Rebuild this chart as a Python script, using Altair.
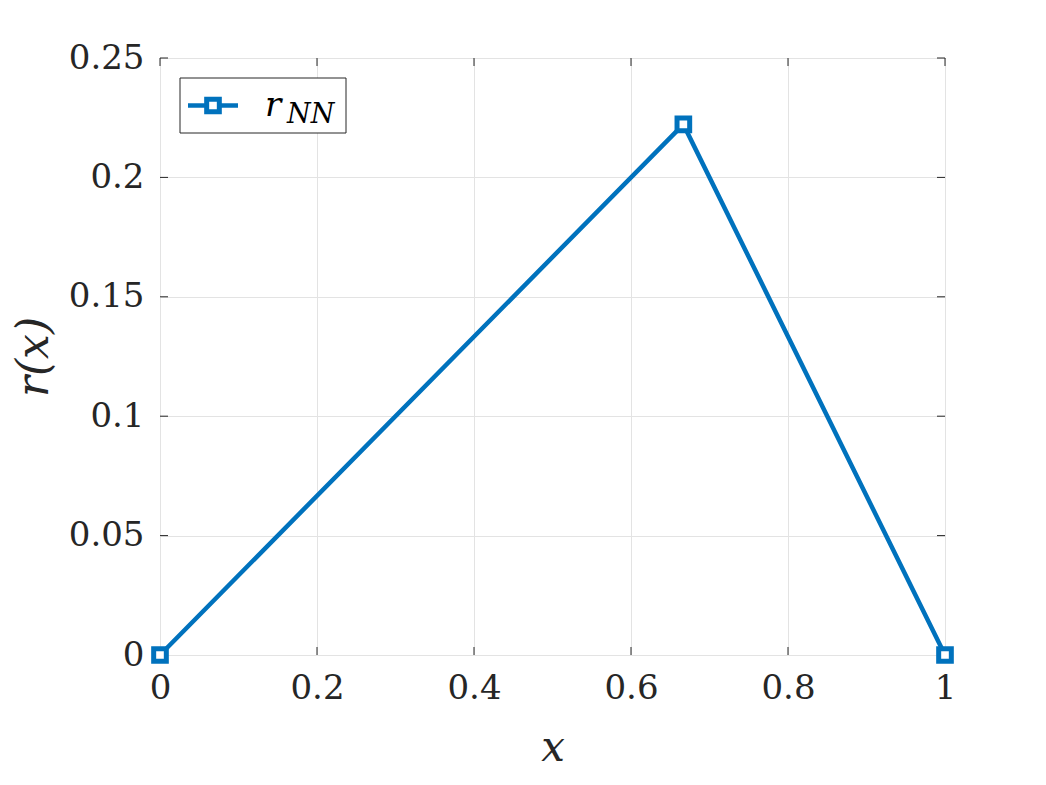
import altair as alt
import pandas as pd

# data
x_vals = [0.0, 0.6667, 1.0]
r_vals = [0.0, 0.2222, 0.0]
x_ticks = [0, 0.2, 0.4, 0.6, 0.8, 1.0]
y_ticks = [0, 0.05, 0.1, 0.15, 0.2, 0.25]

W, H = 785, 597
BLUE = "#0072BD"
INK = "#262626"
FONT = "DejaVu Serif"

df = pd.DataFrame({"x": x_vals, "r": r_vals})
dfx = pd.DataFrame({"t": x_ticks})
dfy = pd.DataFrame({"t": y_ticks})

xs = alt.Scale(domain=[0, 1], nice=False, zero=False)
ys = alt.Scale(domain=[0, 0.25], nice=False, zero=False)

xaxis = alt.Axis(values=x_ticks, format="~g", ticks=False, domain=False, labelFlush=False,
                 grid=True, gridColor="#e3e3e3", gridWidth=1,
                 labelFont=FONT, labelFontSize=34, labelColor=INK, labelPadding=16,
                 title="x", titleFont=FONT, titleFontSize=42, titleFontStyle="italic",
                 titleFontWeight="normal", titleColor=INK, titlePadding=22)
yaxis = alt.Axis(values=y_ticks, format="~g", ticks=False, domain=False, labelFlush=False,
                 grid=True, gridColor="#e3e3e3", gridWidth=1,
                 labelFont=FONT, labelFontSize=34, labelColor=INK, labelPadding=16,
                 title="r(x)", titleFont=FONT, titleFontSize=44, titleFontStyle="italic",
                 titleFontWeight="normal", titleColor=INK, titlePadding=12)

base = alt.Chart(df)

line = base.mark_line(color=BLUE, strokeWidth=4.5).encode(
    x=alt.X("x:Q", scale=xs, axis=xaxis),
    y=alt.Y("r:Q", scale=ys, axis=yaxis),
)
pts = base.mark_point(shape="square", size=160, filled=False, color=BLUE,
                      strokeWidth=5, opacity=1, fill="white", fillOpacity=1).encode(
    x=alt.X("x:Q", scale=xs), y=alt.Y("r:Q", scale=ys))

tick_style = dict(color=INK, strokeWidth=1)
xb = alt.Chart(dfx).mark_rule(**tick_style).encode(
    x=alt.X("t:Q", scale=xs), y=alt.value(H), y2=alt.value(H - 8))
xt = alt.Chart(dfx).mark_rule(**tick_style).encode(
    x=alt.X("t:Q", scale=xs), y=alt.value(0), y2=alt.value(8))
yl = alt.Chart(dfy).mark_rule(**tick_style).encode(
    y=alt.Y("t:Q", scale=ys), x=alt.value(0), x2=alt.value(8))
yr = alt.Chart(dfy).mark_rule(**tick_style).encode(
    y=alt.Y("t:Q", scale=ys), x=alt.value(W), x2=alt.value(W - 8))

# legend
leg_df = pd.DataFrame({"k": [0]})
lb = alt.Chart(leg_df).mark_rect(fill="white", stroke=INK, strokeWidth=1).encode(
    x=alt.value(20), x2=alt.value(186), y=alt.value(20), y2=alt.value(75))
ll = alt.Chart(leg_df).mark_rule(color=BLUE, strokeWidth=4.5).encode(
    x=alt.value(28), x2=alt.value(78), y=alt.value(47.5))
lp = alt.Chart(leg_df).mark_point(shape="square", size=160, color=BLUE, strokeWidth=5,
                                  fill="white", fillOpacity=1, opacity=1).encode(
    x=alt.value(53), y=alt.value(47.5))
lt1 = alt.Chart(leg_df).mark_text(text="r", font=FONT, fontSize=34, fontStyle="italic",
                                  color="black", align="left", baseline="alphabetic").encode(
    x=alt.value(105), y=alt.value(58))
lt2 = alt.Chart(leg_df).mark_text(text="NN", font=FONT, fontSize=27, fontStyle="italic",
                                  color="black", align="left", baseline="alphabetic").encode(
    x=alt.value(127), y=alt.value(65))

chart = alt.layer(line, xb, xt, yl, yr, pts, lb, ll, lp, lt1, lt2).properties(
    width=W, height=H,
    autosize=alt.AutoSizeParams(type="none"),
    padding={"left": 152, "top": 50, "right": 90, "bottom": 120},
    background="white",
).configure_view(stroke=INK, strokeWidth=1)

chart.save("out.html", embed_options={"renderer": "svg", "actions": False})
